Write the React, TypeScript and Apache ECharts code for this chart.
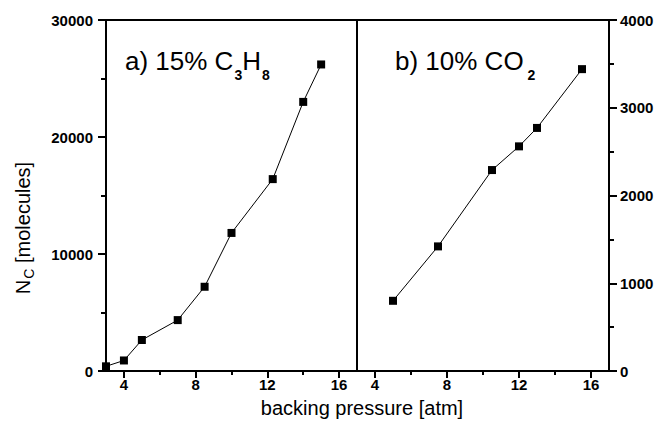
import React, { useEffect, useRef } from "react";
import * as echarts from "echarts";

// Panel a) 15% C3H8
const pressureA = [3, 4, 5, 7, 8.5, 10, 12.3, 14, 15];
const countsA = [400, 900, 2650, 4350, 7200, 11800, 16400, 23000, 26200];

// Panel b) 10% CO2
const pressureB = [5, 7.5, 10.5, 12, 13, 15.5];
const countsB = [800, 1420, 2290, 2560, 2770, 3440];

// Pressure axis ticks
const xMajorTicks = [4, 8, 12, 16];
const xMinorTicks = [6, 10, 14];

const FONT = "'Liberation Sans', Arial, Helvetica, sans-serif";
const INK = "#000";

const plain = (v: number) => String(v);

function pressureAxis(gridIndex: number) {
  return {
    type: "value",
    gridIndex,
    position: "bottom",
    min: 3,
    max: 17,
    axisLine: { show: true, onZero: false, lineStyle: { color: INK, width: 2 } },
    axisTick: { show: true, customValues: xMajorTicks, length: 7, lineStyle: { color: INK, width: 2 } },
    axisLabel: {
      show: true,
      customValues: xMajorTicks,
      formatter: plain,
      margin: 6,
      color: INK,
      fontFamily: FONT,
      fontSize: 15,
      fontWeight: "bold",
    },
    splitLine: { show: false },
  };
}

function pressureMinorAxis(gridIndex: number) {
  return {
    type: "value",
    gridIndex,
    position: "bottom",
    min: 3,
    max: 17,
    axisLine: { show: false },
    axisTick: { show: true, customValues: xMinorTicks, length: 4, lineStyle: { color: INK, width: 2 } },
    axisLabel: { show: false },
    splitLine: { show: false },
  };
}

function countAxis(gridIndex: number, position: string, max: number, interval: number, margin: number) {
  return {
    type: "value",
    gridIndex,
    position,
    min: 0,
    max,
    interval,
    axisLine: { show: true, onZero: false, lineStyle: { color: INK, width: 2 } },
    axisTick: { show: true, length: 8, lineStyle: { color: INK, width: 2 } },
    minorTick: { show: true, splitNumber: 2, length: 5, lineStyle: { color: INK, width: 2 } },
    axisLabel: {
      margin,
      formatter: plain,
      color: INK,
      fontFamily: FONT,
      fontSize: 15,
      fontWeight: "bold",
    },
    splitLine: { show: false },
    minorSplitLine: { show: false },
  };
}

function seriesOf(xs: number[], ys: number[], axisIndex: number) {
  return {
    type: "line",
    xAxisIndex: axisIndex,
    yAxisIndex: axisIndex,
    data: xs.map((x, i) => [x, ys[i]]),
    symbol: "rect",
    symbolSize: 8,
    clip: false,
    itemStyle: { color: INK },
    lineStyle: { color: INK, width: 1 },
  };
}

export default function App() {
  const ref = useRef<HTMLDivElement>(null);

  useEffect(() => {
    if (!ref.current) return;
    const chart = echarts.init(ref.current, null, { renderer: "svg" });

    const option = {
      animation: false,
      backgroundColor: "#fff",
      textStyle: { fontFamily: FONT },
      grid: [
        { left: 106, top: 20, width: 251, height: 351, show: true, borderColor: INK, borderWidth: 2, backgroundColor: "transparent" },
        { left: 357, top: 20, width: 252, height: 351, show: true, borderColor: INK, borderWidth: 2, backgroundColor: "transparent" },
      ],
      xAxis: [pressureAxis(0), pressureAxis(1), pressureMinorAxis(0), pressureMinorAxis(1)],
      yAxis: [countAxis(0, "left", 30000, 10000, 13), countAxis(1, "right", 4000, 1000, 11)],
      series: [seriesOf(pressureA, countsA, 0), seriesOf(pressureB, countsB, 1)],
      graphic: [
        {
          type: "text",
          x: 125,
          y: 61,
          style: {
            text: "{m|a) 15% C}{s|3}{m|H}{s|8}",
            align: "left",
            verticalAlign: "middle",
            fill: INK,
            rich: {
              m: { fontSize: 26, fontFamily: FONT, fill: INK },
              s: { fontSize: 14, fontWeight: "bold", fontFamily: FONT, fill: INK, padding: [27, 0, 0, 1] },
            },
          },
        },
        {
          type: "text",
          x: 395,
          y: 61,
          style: {
            text: "{m|b) 10% CO}{s|2}",
            align: "left",
            verticalAlign: "middle",
            fill: INK,
            rich: {
              m: { fontSize: 26, fontFamily: FONT, fill: INK },
              s: { fontSize: 14, fontWeight: "bold", fontFamily: FONT, fill: INK, padding: [27, 0, 0, 4] },
            },
          },
        },
        {
          type: "text",
          x: 23,
          y: 228,
          rotation: Math.PI / 2,
          style: {
            text: "{m|N}{s|C}{m| [molecules]}",
            align: "center",
            verticalAlign: "middle",
            fill: INK,
            rich: {
              m: { fontSize: 20, fontFamily: FONT, fill: INK },
              s: { fontSize: 14, fontFamily: FONT, fill: INK, padding: [11, 0, 0, 1] },
            },
          },
        },
        {
          type: "text",
          x: 362,
          y: 408,
          style: {
            text: "backing pressure [atm]",
            align: "center",
            verticalAlign: "middle",
            fill: INK,
            fontSize: 20,
            fontFamily: FONT,
          },
        },
      ],
    };

    chart.setOption(option as any);
    return () => chart.dispose();
  }, []);

  return (
    <div
      ref={ref}
      style={{ position: "fixed", left: 0, top: 0, width: 657, height: 433, background: "#fff" }}
    />
  );
}
